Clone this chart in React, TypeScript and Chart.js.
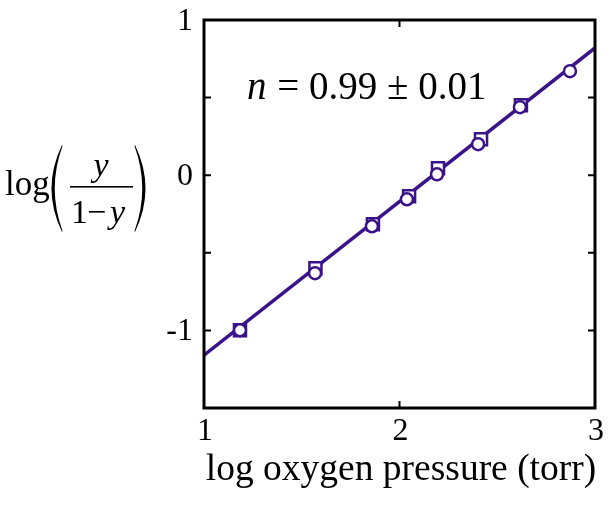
import React, { useEffect, useRef } from 'react';
import { Chart, registerables } from 'chart.js';

Chart.register(...registerables);

// Data
const circleX = [1.184, 1.568, 1.859, 2.038, 2.192, 2.402, 2.616, 2.872];
const circleY = [-0.999, -0.631, -0.329, -0.155, 0.006, 0.2, 0.438, 0.67];
const squareX = [1.184, 1.57, 1.864, 2.049, 2.197, 2.417, 2.621];
const squareY = [-0.999, -0.599, -0.316, -0.135, 0.045, 0.232, 0.451];
const fitX = [1, 3];
const fitY = [-1.16, 0.82];

const xTickValues = [1, 2, 3];
const xTickLabels = ['1', '2', '3'];
const yTickValues = [1, 0, -1];
const yTickLabels = ['1', '0', '-1'];
const xInnerTicks = [2];
const yInnerTicks = [-1, -0.5, 0, 0.5];

const xTitle = 'log oxygen pressure (torr)';
const annotationItalic = 'n';
const annotationRest = ' = 0.99 ± 0.01';

const COLOR = '#3a1289';
const SERIF = '"Liberation Serif", "Times New Roman", serif';

const decorPlugin = {
  id: 'decor',
  afterDraw(chart: any) {
    const ctx = chart.ctx as CanvasRenderingContext2D;
    const { left, right, top, bottom } = chart.chartArea;
    const xs = chart.scales.x;
    const ys = chart.scales.y;
    ctx.save();
    // frame
    ctx.strokeStyle = '#000';
    ctx.lineWidth = 3;
    ctx.strokeRect(left, top, right - left, bottom - top);
    // inner ticks
    ctx.lineWidth = 2;
    ctx.beginPath();
    xInnerTicks.forEach((v) => {
      const px = xs.getPixelForValue(v);
      ctx.moveTo(px, bottom);
      ctx.lineTo(px, bottom - 7);
      ctx.moveTo(px, top);
      ctx.lineTo(px, top + 7);
    });
    yInnerTicks.forEach((v) => {
      const py = ys.getPixelForValue(v);
      ctx.moveTo(left, py);
      ctx.lineTo(left + 7, py);
      ctx.moveTo(right, py);
      ctx.lineTo(right - 7, py);
    });
    ctx.stroke();

    // tick labels
    ctx.fillStyle = '#000';
    ctx.font = `32px ${SERIF}`;
    ctx.textBaseline = 'alphabetic';
    ctx.textAlign = 'center';
    xTickValues.forEach((v, i) => {
      ctx.fillText(xTickLabels[i], xs.getPixelForValue(v) + 1, bottom + 32);
    });
    ctx.textAlign = 'right';
    yTickValues.forEach((v, i) => {
      ctx.fillText(yTickLabels[i], left - 11, ys.getPixelForValue(v) + 10);
    });

    // x title
    ctx.font = `37.5px ${SERIF}`;
    ctx.textAlign = 'center';
    ctx.fillText(xTitle, 401, 480);

    // annotation
    ctx.textAlign = 'left';
    ctx.font = `italic 39px ${SERIF}`;
    const ax = 247;
    const ay = 99;
    ctx.fillText(annotationItalic, ax, ay);
    const w = ctx.measureText(annotationItalic).width;
    ctx.font = `39px ${SERIF}`;
    ctx.fillText(annotationRest, ax + w + 1, ay);

    // y label: log( y / (1 - y) )
    ctx.font = `35px ${SERIF}`;
    ctx.fillText('log', 5, 195);
    // parentheses
    ctx.beginPath();
    ctx.moveTo(62, 145);
    ctx.quadraticCurveTo(41, 188.5, 62, 232);
    ctx.lineTo(62.5, 231);
    ctx.quadraticCurveTo(47, 188.5, 62.5, 146);
    ctx.closePath();
    ctx.fill();
    ctx.beginPath();
    ctx.moveTo(135, 145);
    ctx.quadraticCurveTo(156, 188.5, 135, 232);
    ctx.lineTo(134.5, 231);
    ctx.quadraticCurveTo(150, 188.5, 134.5, 146);
    ctx.closePath();
    ctx.fill();
    // fraction
    ctx.font = `italic 34px ${SERIF}`;
    ctx.textAlign = 'center';
    ctx.fillText('y', 101, 176);
    ctx.fillRect(70, 186, 63, 1.6);
    ctx.textAlign = 'left';
    ctx.font = `34px ${SERIF}`;
    ctx.fillText('1', 71, 223);
    ctx.fillText('\u2212', 87, 223);
    ctx.font = `italic 34px ${SERIF}`;
    ctx.fillText('y', 110, 223);
    ctx.restore();
  },
};

export default function App() {
  const ref = useRef<HTMLCanvasElement | null>(null);
  useEffect(() => {
    document.body.style.margin = '0';
    const canvas = ref.current;
    if (!canvas) return;
    const chart = new Chart(canvas, {
      type: 'scatter',
      data: {
        datasets: [
          {
            label: 'circles',
            data: circleX.map((x, i) => ({ x, y: circleY[i] })),
            pointStyle: 'circle',
            pointRadius: 6,
            pointBorderWidth: 2.5,
            pointBackgroundColor: '#ffffff',
            pointBorderColor: COLOR,
            showLine: false,
          },
          {
            label: 'squares',
            data: squareX.map((x, i) => ({ x, y: squareY[i] })),
            pointStyle: 'rect',
            pointRadius: 8.5,
            pointBorderWidth: 2.5,
            pointBackgroundColor: '#ffffff',
            pointBorderColor: COLOR,
            showLine: false,
          },
          {
            label: 'fit',
            data: fitX.map((x, i) => ({ x, y: fitY[i] })),
            showLine: true,
            borderColor: COLOR,
            borderWidth: 3.5,
            pointRadius: 0,
            fill: false,
          },
        ],
      },
      options: {
        responsive: false,
        animation: false,
        events: [],
        layout: { padding: { left: 204, right: 18, top: 20, bottom: 106 } },
        plugins: { legend: { display: false }, tooltip: { enabled: false } },
        scales: {
          x: { type: 'linear', min: 1, max: 3, display: false },
          y: { type: 'linear', min: -1.5, max: 1, display: false },
        },
      },
      plugins: [decorPlugin],
    });
    return () => chart.destroy();
  }, []);
  return <canvas ref={ref} width={613} height={514} style={{ display: 'block' }} />;
}
